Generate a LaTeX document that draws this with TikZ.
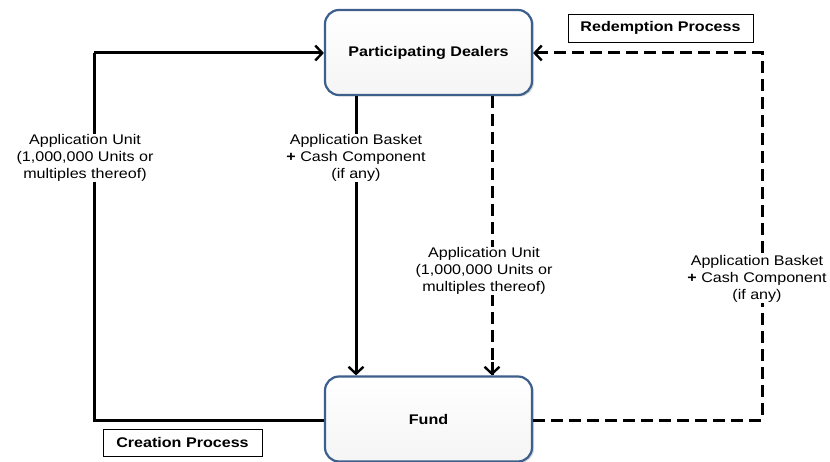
\documentclass[tikz,border=0pt]{standalone}
\usepackage{fontspec}
\setmainfont{Liberation Sans}[FakeStretch=1.15]
\usetikzlibrary{arrows.meta,shadows}
\definecolor{boxblue}{HTML}{3D5F8C}
\begin{document}
\begin{tikzpicture}[x=1pt,y=-1pt,
  party/.style={draw=boxblue,line width=2.2pt,rounded corners=14pt,
    top color=white,bottom color=gray!8,
    minimum width=207pt,minimum height=85pt,inner sep=0pt,
    font=\fontsize{14}{17}\selectfont\bfseries,
    drop shadow={opacity=0.3,shadow xshift=2pt,shadow yshift=-1.5pt}},
  tag/.style={draw=black,line width=0.8pt,fill=white,inner sep=0pt,
    font=\fontsize{14}{17}\selectfont\bfseries},
  flow/.style={line width=3pt,-{Straight Barb[length=7pt,width=15pt,line width=2.4pt]}},
  flowline/.style={line width=3pt},
  dashline/.style={dash pattern=on 12pt off 6pt},
  lbl/.style={fill=white,align=center,inner sep=1pt,
    font=\fontsize{14}{16.7}\selectfont}
]
\useasboundingbox (0,0) rectangle (830,462);
\node[party] (pd) at (428.5,52.5) {Participating Dealers};
\node[party] (fund) at (428.5,419) {Fund};
\coordinate (tl) at (94,53);
\coordinate (bl) at (94,420);
\coordinate (tr) at (762,53);
\coordinate (br) at (762,420);
% creation
\draw[flowline,line join=miter] (fund.west |- bl) -- (bl) -- (tl);
\draw[flow] (tl) -- (tl -| pd.west);
\draw[flow] (356,0 |- pd.south) -- (356,0 |- fund.north);
% redemption
\draw[flowline,dashline] (492,0 |- pd.south) -- (492,0 |- fund.north);
\draw[flow] (492,362) -- (492,0 |- fund.north);
\draw[flowline,dashline,line join=miter] (fund.east |- br) -- (br) -- (tr) -- (tr -| pd.east);
\draw[flow] ([xshift=10pt]tr -| pd.east) -- (tr -| pd.east);
% labels
\node[lbl] (l1) at (85,158) {Application Unit\\(1,000,000 Units or\\multiples thereof)};
\node[lbl] (l2) at (356,158) {Application Basket\\\textbf{+} Cash Component\\(if any)};
\node[lbl] (l3) at (484,271) {Application Unit\\(1,000,000 Units or\\multiples thereof)};
\node[lbl] (l4) at (757,279) {Application Basket\\\textbf{+} Cash Component\\(if any)};
\node[tag,minimum width=159pt,minimum height=27pt] (cp) at (182.5,442.5) {Creation Process};
\node[tag,minimum width=185pt,minimum height=28pt] (rp) at (660.5,28) {Redemption Process};
\end{tikzpicture}
\end{document}
